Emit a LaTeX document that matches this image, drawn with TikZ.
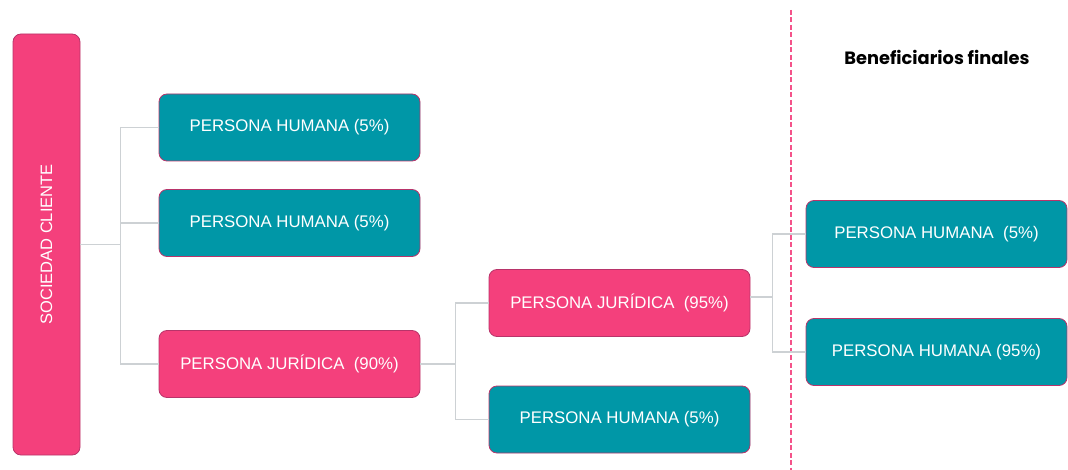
\documentclass[tikz,border=0pt]{standalone}
\usepackage{fontspec}
\setmainfont{Liberation Sans}
\newfontfamily\headfont{Poppins}
\usepackage{tikz}
\usetikzlibrary{calc}

\definecolor{pinkfill}{HTML}{F4407C}
\definecolor{pinkedge}{HTML}{B8346A}
\definecolor{tealfill}{HTML}{0097A7}
\definecolor{linegray}{HTML}{CDD1D4}
\definecolor{dashpink}{HTML}{F4538A}

\tikzset{
  box/.style={draw=pinkedge, line width=0.8pt, rounded corners=8pt, inner sep=0pt,
    minimum width=261pt, minimum height=67pt, text=white,
    font=\fontsize{16.8}{20}\selectfont},
  humana/.style={box, fill=tealfill},
  juridica/.style={box, fill=pinkfill},
  conn/.style={linegray, line width=1.2pt}
}

\begin{document}
\begin{tikzpicture}[x=1pt,y=-1pt]
  \useasboundingbox (0,0) rectangle (1068,470);
  % columna izquierda
  \node[juridica, minimum width=67pt, minimum height=421pt] (soc) at (46.5,244.5)
     {\rotatebox{90}{\fontsize{16.5}{20}\selectfont SOCIEDAD CLIENTE}};
  \node[humana] (ph1) at (289.5,127.5) {PERSONA HUMANA (5\%)};
  \node[humana] (ph2) at (289.5,223) {PERSONA HUMANA (5\%)};
  \node[juridica] (pj90) at (289.5,364) {PERSONA JUR\'IDICA\ \ (90\%)};
  % segundo nivel
  \node[juridica] (pj95) at (619.5,303) {PERSONA JUR\'IDICA\ \ (95\%)};
  \node[humana] (ph3) at (619.5,419.5) {PERSONA HUMANA (5\%)};
  % beneficiarios
  \node[humana] (ph4) at (936.5,234) {PERSONA HUMANA\ \ (5\%)};
  \node[humana] (ph5) at (936.5,352) {PERSONA HUMANA (95\%)};
  \node[font=\headfont\bfseries\fontsize{17.8}{21}\selectfont] (title) at (937,57) {Beneficiarios finales};

  % separador
  \coordinate (sepTop) at (791,10);
  \coordinate (sepBot) at (791,470);
  \draw[dashpink, line width=1.3pt, dash pattern=on 5pt off 2.5pt] (sepTop) -- (sepBot);

  % conectores
  \draw[conn] (soc.east) -- ++(40,0) coordinate (j1);
  \draw[conn] (ph1.west -| j1) -- (pj90.west -| j1);
  \foreach \n in {ph1,ph2,pj90}
    \draw[conn] (\n.west -| j1) -- (\n.west);
  \draw[conn] (pj90.east) -- ++(35,0) coordinate (j2);
  \draw[conn] (pj95.west -| j2) -- (ph3.west -| j2);
  \foreach \n in {pj95,ph3}
    \draw[conn] (\n.west -| j2) -- (\n.west);
  \draw[conn] ($(pj95.east)+(0,-6)$) -- ++(22,0) coordinate (j3);
  \draw[conn] (ph4.west -| j3) -- (ph5.west -| j3);
  \foreach \n in {ph4,ph5}
    \draw[conn] (\n.west -| j3) -- (\n.west);
\end{tikzpicture}
\end{document}
